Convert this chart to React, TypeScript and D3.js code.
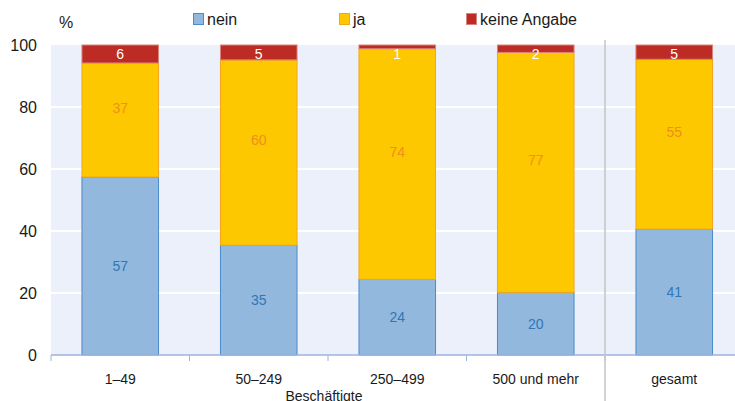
import React, { useRef, useEffect } from 'react';
import * as d3 from 'd3';

// Daten (Anteile in %)
const categories = ['1–49', '50–249', '250–499', '500 und mehr', 'gesamt'];
const seriesNames = ['nein', 'ja', 'keine Angabe'];
const nein = [57.4, 35.4, 24.4, 20.2, 40.6];
const ja = [36.8, 59.8, 74.4, 77.4, 54.8];
const keineAngabe = [5.8, 4.8, 1.2, 2.4, 4.6];
const yTicks = [0, 20, 40, 60, 80, 100];

const width = 735;
const height = 401;
const font = '"Liberation Sans", Arial, sans-serif';

const colors = {
  nein: { fill: '#93B8DD', stroke: '#4A8CCB', text: '#2F77B8' },
  ja: { fill: '#FDC800', stroke: '#F3A61C', text: '#EF8F1E' },
  keine: { fill: '#BC2C25', stroke: '#D8837E', text: '#FFFFFF' },
};

export default function App() {
  const svgRef = useRef<SVGSVGElement>(null);

  useEffect(() => {
    if (!svgRef.current) return;
    const svg = d3.select(svgRef.current);
    svg.selectAll('*').remove();

    const left = 51;
    const step = 138.5;
    const x = d3.scaleBand<string>()
      .domain(categories)
      .range([left, left + step * categories.length])
      .paddingInner(0.44)
      .paddingOuter(0.22);

    const y = d3.scaleLinear().domain([0, 100]).range([355, 45]);

    // Hintergrund der Zeichenfläche
    svg.append('rect')
      .attr('x', left)
      .attr('y', y(100))
      .attr('width', width - left)
      .attr('height', y(0) - y(100))
      .attr('fill', '#ECF0FA');

    // Gitterlinien
    svg.selectAll('.grid')
      .data(yTicks.filter(t => t > 0 && t < 100))
      .enter()
      .append('line')
      .attr('x1', left)
      .attr('x2', width)
      .attr('y1', d => y(d))
      .attr('y2', d => y(d))
      .attr('stroke', '#fff')
      .attr('stroke-width', 2);

    // Y-Achsenbeschriftung
    svg.selectAll('.ytick')
      .data(yTicks)
      .enter()
      .append('text')
      .attr('x', 37)
      .attr('y', d => y(d))
      .attr('dy', '0.35em')
      .attr('text-anchor', 'end')
      .style('font-family', font)
      .style('font-size', '16px')
      .style('fill', '#1a1a1a')
      .text(d => d);

    svg.append('text')
      .attr('x', 59)
      .attr('y', 22)
      .attr('dy', '0.35em')
      .style('font-family', font)
      .style('font-size', '16px')
      .style('fill', '#1a1a1a')
      .text('%');

    // Gestapelte Balken
    const rows = categories.map((c, i) => ({
      cat: c,
      nein: nein[i],
      ja: ja[i],
      keine: keineAngabe[i],
    }));
    const stack = d3.stack<any>().keys(['nein', 'ja', 'keine']);
    const layers = stack(rows);

    layers.forEach(layer => {
      const key = layer.key as 'nein' | 'ja' | 'keine';
      const col = colors[key];
      const g = svg.append('g');
      g.selectAll('rect')
        .data(layer)
        .enter()
        .append('rect')
        .attr('x', d => x(d.data.cat)! + 0.5)
        .attr('y', d => y(d[1]))
        .attr('width', x.bandwidth() - 1)
        .attr('height', d => y(d[0]) - y(d[1]))
        .attr('fill', col.fill)
        .attr('stroke', col.stroke)
        .attr('stroke-width', 1);

      g.selectAll('text')
        .data(layer)
        .enter()
        .append('text')
        .attr('x', d => x(d.data.cat)! + x.bandwidth() / 2)
        .attr('y', d => {
          const mid = (y(d[0]) + y(d[1])) / 2;
          if (key === 'keine') return Math.max(mid, y(100) + 9);
          if (key === 'ja') return mid - 12;
          return mid;
        })
        .attr('dy', '0.35em')
        .attr('text-anchor', 'middle')
        .style('font-family', font)
        .style('font-size', '14px')
        .style('fill', col.text)
        .text(d => Math.round(d[1] - d[0]));
    });

    // X-Achse
    svg.append('line')
      .attr('x1', left)
      .attr('x2', width)
      .attr('y1', y(0))
      .attr('y2', y(0))
      .attr('stroke', '#9DB4DC')
      .attr('stroke-width', 1.5);

    const boundaries = categories.map(c => x(c)! - x.step() * x.paddingOuter());
    svg.selectAll('.xtick')
      .data(boundaries)
      .enter()
      .append('line')
      .attr('x1', d => d)
      .attr('x2', d => d)
      .attr('y1', y(0))
      .attr('y2', y(0) + 6)
      .attr('stroke', '#9DB4DC')
      .attr('stroke-width', 1);

    // Trennlinie vor "gesamt"
    const sepX = boundaries[boundaries.length - 1];
    svg.append('line')
      .attr('x1', sepX)
      .attr('x2', sepX)
      .attr('y1', 40)
      .attr('y2', height)
      .attr('stroke', '#C4C4C4')
      .attr('stroke-width', 1.5);

    svg.selectAll('.xlabel')
      .data(categories)
      .enter()
      .append('text')
      .attr('x', d => x(d)! + x.bandwidth() / 2)
      .attr('y', 379)
      .attr('dy', '0.35em')
      .attr('text-anchor', 'middle')
      .style('font-family', font)
      .style('font-size', '14px')
      .style('fill', '#1a1a1a')
      .text(d => d);

    svg.append('text')
      .attr('x', (left + sepX) / 2 - 4)
      .attr('y', 396)
      .attr('dy', '0.35em')
      .attr('text-anchor', 'middle')
      .style('font-family', font)
      .style('font-size', '14px')
      .style('fill', '#1a1a1a')
      .text('Beschäftigte');

    // Legende
    const legendX = [193, 339, 466];
    const legendColors = [colors.nein, colors.ja, colors.keine];
    const legend = svg.selectAll('.legend')
      .data(seriesNames)
      .enter()
      .append('g')
      .attr('transform', (d, i) => `translate(${legendX[i]}, 13)`);

    legend.append('rect')
      .attr('x', 0.5)
      .attr('y', 0.5)
      .attr('width', 10)
      .attr('height', 11)
      .attr('fill', (d, i) => legendColors[i].fill)
      .attr('stroke', (d, i) => legendColors[i].stroke);

    legend.append('text')
      .attr('x', 14)
      .attr('y', 6)
      .attr('dy', '0.35em')
      .style('font-family', font)
      .style('font-size', '16px')
      .style('fill', '#1a1a1a')
      .text(d => d);
  }, []);

  return (
    <svg
      ref={svgRef}
      width={width}
      height={height}
      style={{ position: 'absolute', left: 0, top: 0, background: '#fff' }}
    />
  );
}
